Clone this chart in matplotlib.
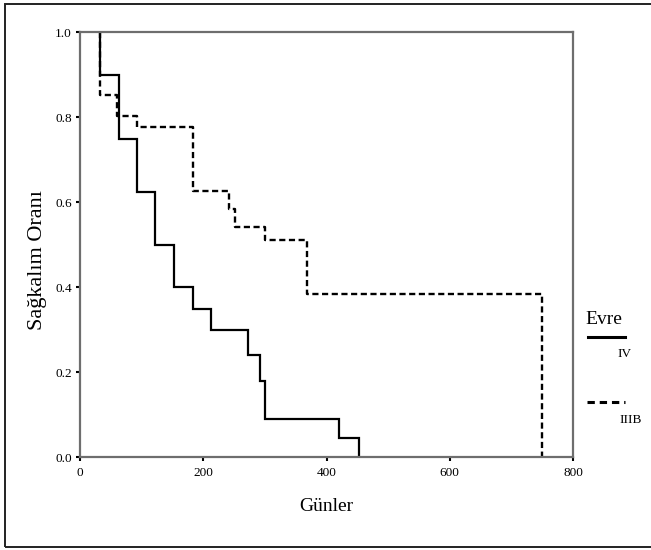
import matplotlib
matplotlib.use("Agg")
import matplotlib.pyplot as plt
from matplotlib.lines import Line2D
from matplotlib.patches import Rectangle

plt.rcParams['font.family'] = ['Liberation Serif', 'DejaVu Serif']

# Kaplan-Meier survival estimates (days, proportion surviving after each event)
iv_days = [32, 32, 63, 92, 121, 153, 183, 212, 273, 292, 301, 421, 453]
iv_surv = [1.0, 0.90, 0.75, 0.625, 0.50, 0.40, 0.35, 0.30, 0.24, 0.18, 0.09, 0.045, 0.0]

iiib_days = [32, 32, 60, 92, 183, 242, 251, 300, 368, 749]
iiib_surv = [1.0, 0.853, 0.804, 0.777, 0.627, 0.585, 0.541, 0.511, 0.385, 0.0]

x_ticks = [0, 200, 400, 600, 800]
y_ticks = [0.0, 0.2, 0.4, 0.6, 0.8, 1.0]

fig = plt.figure(figsize=(6.51, 5.5), dpi=100)
ax = fig.add_axes([80 / 651, 1 - 457.3 / 550, 493 / 651, 425 / 550])

ax.step(iv_days, iv_surv, where='post', color='black', lw=1.6, solid_joinstyle='miter')
ax.step(iiib_days, iiib_surv, where='post', color='black', lw=1.7,
        linestyle=(0, (2.6, 1.5)))

ax.set_xlim(0, 800)
ax.set_ylim(0, 1.0)
ax.set_xticks(x_ticks)
ax.set_yticks(y_ticks)
ax.set_xticklabels([str(t) for t in x_ticks], fontsize=9.5)
ax.set_yticklabels([f"{t:.1f}" for t in y_ticks], fontsize=9.5)
ax.tick_params(axis='x', direction='out', length=3, width=1.5, color='black', pad=4)
ax.tick_params(axis='y', direction='out', length=3, width=1.5, color='black', pad=3)
for s in ax.spines.values():
    s.set_color('#6e6e6e')
    s.set_linewidth(1.6)

ax.set_xlabel('Günler', fontsize=14, labelpad=14)
ax.set_ylabel('Sağkalım Oranı', fontsize=16)
ax.yaxis.set_label_coords(-0.066, 0.465)

# legend block on the right
fig.text(585 / 651, 1 - 320 / 550, 'Evre', fontsize=14, ha='left', va='center')
fig.add_artist(Line2D([588 / 651, 625 / 651], [1 - 337 / 550, 1 - 337 / 550],
                      color='black', lw=2.2))
fig.text(617 / 651, 1 - 354 / 550, 'IV', fontsize=9.5, ha='left', va='center')
fig.add_artist(Line2D([587 / 651, 625 / 651], [1 - 402 / 550, 1 - 402 / 550],
                      color='black', lw=2.2, linestyle=(0, (2.4, 1.6))))
fig.text(619 / 651, 1 - 420 / 550, 'IIIB', fontsize=9.5, ha='left', va='center')

# outer frame
fig.add_artist(Rectangle((5 / 651, 1 - 546.5 / 550), 660 / 651, 543 / 550,
                         fill=False, edgecolor='#222222', lw=1.4,
                         transform=fig.transFigure))

fig.savefig('out.png', dpi=100)
